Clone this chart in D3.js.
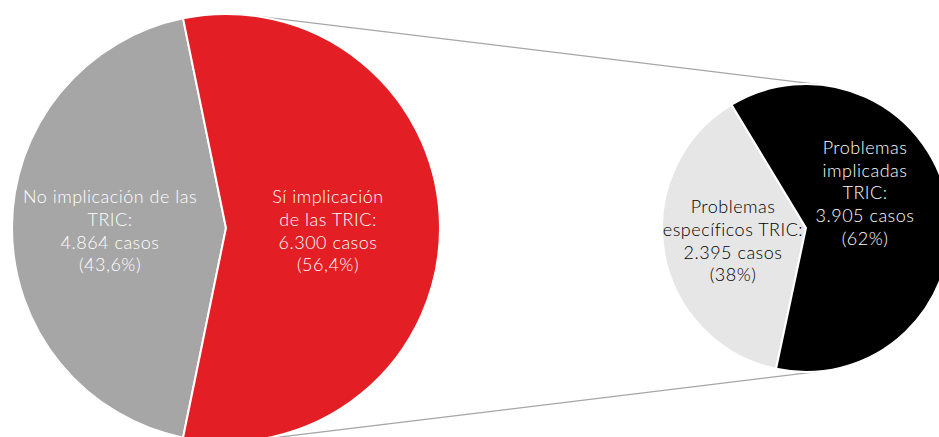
<!DOCTYPE html>
<meta charset="utf-8">
<style>
body {
  margin: 0;
  background: #fff;
  font-family: Lato, "Open Sans", sans-serif;
}
.connector {
  stroke: #a6a6a6;
  stroke-width: 1.3;
  fill: none;
}
.slice {
  stroke: #fff;
  stroke-width: 2;
}
.label {
  font-size: 18px;
  font-weight: 300;
  letter-spacing: 0.5px;
  text-anchor: middle;
}
</style>
<body>
<script src="https://cdn.jsdelivr.net/npm/d3@7"></script>
<script>

var width = 939,
    height = 437;

// data
var mainKeys = ["no", "si"];
var mainValues = [4864, 6300];
var mainColors = ["#a6a6a6", "#e31e24"];
var mainLines = [
  ["No implicación de las", "TRIC:"],
  ["Sí implicación", "de las TRIC:"]
];

var subKeys = ["especificos", "implicadas"];
var subValues = [2395, 3905];
var subColors = ["#e6e6e6", "#000000"];
var subLines = [
  ["Problemas", "específicos TRIC:"],
  ["Problemas", "implicadas", "TRIC:"]
];

var es = d3.formatLocale({decimal: ",", thousands: ".", grouping: [3], currency: ["", "€"]});
var fmtN = es.format(",d");

var big = {cx: 226, cy: 228, r: 214},
    small = {cx: 806, cy: 228, r: 144};

var svg = d3.select("body").append("svg")
    .attr("width", width)
    .attr("height", height);

// connector lines: outer tangents of both circles
var dx = small.cx - big.cx, dy = small.cy - big.cy,
    d = Math.sqrt(dx * dx + dy * dy),
    theta = Math.atan2(dy, dx),
    alpha = Math.acos((big.r - small.r) / d);

[theta - alpha, theta + alpha].forEach(function(a) {
  svg.append("line")
      .attr("class", "connector")
      .attr("x1", big.cx + big.r * Math.cos(a))
      .attr("y1", big.cy + big.r * Math.sin(a))
      .attr("x2", small.cx + small.r * Math.cos(a))
      .attr("y2", small.cy + small.r * Math.sin(a));
});

// main pie: red slice centred on the right side
var mainTotal = d3.sum(mainValues);
var redAngle = 2 * Math.PI * mainValues[1] / mainTotal;
var mainStart = Math.PI / 2 + redAngle / 2;

var mainPie = d3.pie().sort(null)
    .startAngle(mainStart)
    .endAngle(mainStart + 2 * Math.PI);

var mainArc = d3.arc().innerRadius(0).outerRadius(big.r);

var gMain = svg.append("g")
    .attr("transform", "translate(" + big.cx + "," + big.cy + ")");

gMain.selectAll(".slice")
    .data(mainPie(mainValues))
  .enter().append("path")
    .attr("class", "slice")
    .attr("fill", function(d, i) { return mainColors[i]; })
    .attr("d", mainArc);

// second pie
var subTotal = d3.sum(subValues);
var subStart = 192 * Math.PI / 180;

var subPie = d3.pie().sort(null)
    .startAngle(subStart)
    .endAngle(subStart + 2 * Math.PI);

var subArc = d3.arc().innerRadius(0).outerRadius(small.r);

var gSub = svg.append("g")
    .attr("transform", "translate(" + small.cx + "," + small.cy + ")");

gSub.selectAll(".slice")
    .data(subPie(subValues))
  .enter().append("path")
    .attr("class", "slice")
    .attr("fill", function(d, i) { return subColors[i]; })
    .attr("d", subArc);

// labels
var lineH = 22.6;

function addLabel(g, x, y, lines, color) {
  var t = g.append("text")
      .attr("class", "label")
      .attr("fill", color)
      .attr("transform", "translate(" + x + "," + y + ")");
  var y0 = -(lines.length - 1) * lineH / 2;
  lines.forEach(function(s, i) {
    t.append("tspan")
        .attr("x", 0)
        .attr("y", y0 + i * lineH)
        .attr("dy", "0.35em")
        .text(s);
  });
}

var mainPos = [[-116, 3], [102, 3]];
var mainTxt = ["#ffffff", "#ffffff"];
mainValues.forEach(function(v, i) {
  var pct = es.format(",.1f")(100 * v / mainTotal);
  addLabel(gMain, mainPos[i][0], mainPos[i][1],
    mainLines[i].concat([fmtN(v) + " casos", "(" + pct + "%)"]), mainTxt[i]);
});

var subPos = [[-73, 13], [59, -35]];
var subTxt = ["#000000", "#ffffff"];
subValues.forEach(function(v, i) {
  var pct = Math.round(100 * v / subTotal);
  addLabel(gSub, subPos[i][0], subPos[i][1],
    subLines[i].concat([fmtN(v) + " casos", "(" + pct + "%)"]), subTxt[i]);
});

</script>
